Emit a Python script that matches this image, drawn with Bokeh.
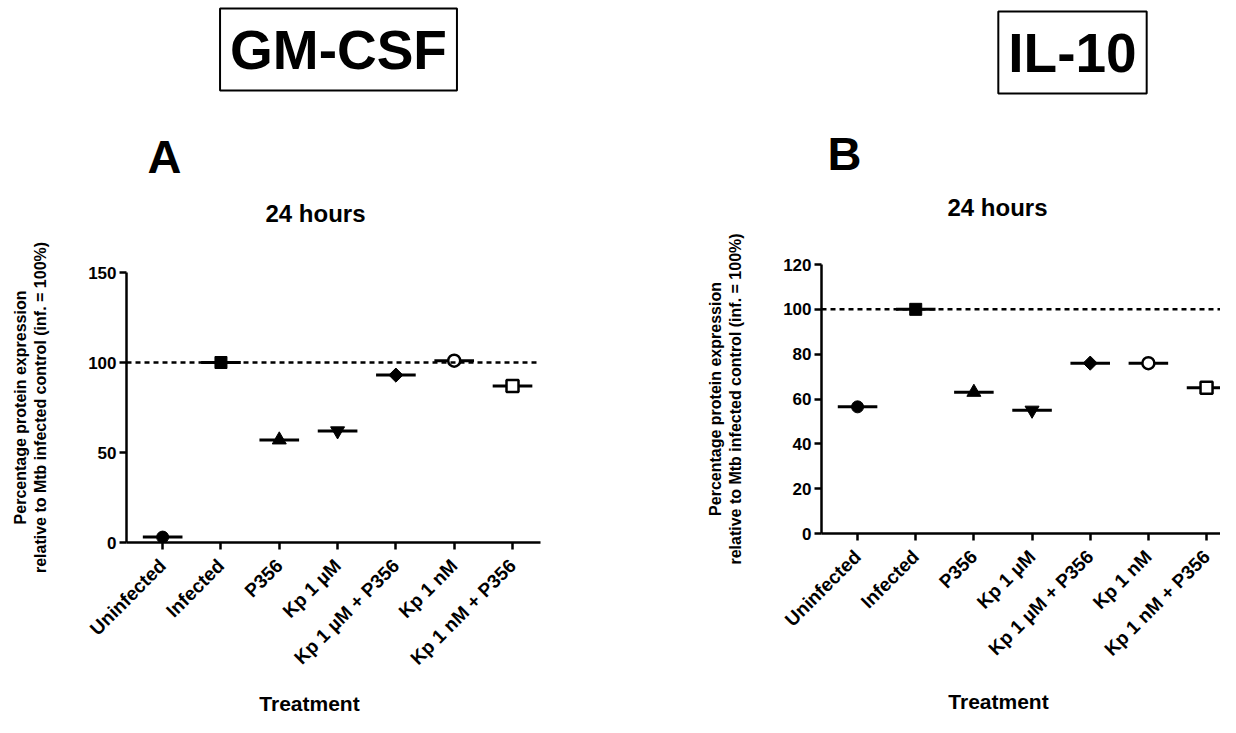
import math
from bokeh.plotting import figure
from bokeh.models import Range1d, FixedTicker, Span, Label
from bokeh.layouts import row, column
from bokeh.embed import file_html
from bokeh.resources import INLINE

# ---------------- data ----------------
treatments = ["Uninfected", "Infected", "P356", "Kp 1 \u00b5M",
              "Kp 1 \u00b5M + P356", "Kp 1 nM", "Kp 1 nM + P356"]
marker_types = ["circle", "square", "triangle", "inverted_triangle",
                "diamond", "circle", "square"]
marker_filled = [True, True, True, True, True, False, False]

gmcsf_values = [3, 100, 57, 62, 93, 101, 87]
il10_values = [56.5, 100, 63, 55, 76, 76, 65]

gmcsf_ticks = [0, 50, 100, 150]
il10_ticks = [0, 20, 40, 60, 80, 100, 120]
reference_level = 100

y_label = "Percentage protein expression\nrelative to Mtb infected control (inf. = 100%)"
x_label = "Treatment"
panel_title = "24 hours"

FONT = "Liberation Sans"
FOOTER_H = 30


def blank(width, height, left, right):
    p = figure(width=width, height=height, output_backend="svg", toolbar_location=None,
               x_range=Range1d(0, 1), y_range=Range1d(0, 1),
               x_axis_location=None, y_axis_location=None,
               min_border_left=left, min_border_right=right,
               min_border_top=0, min_border_bottom=0)
    p.outline_line_color = None
    p.grid.visible = False
    return p


def text(p, t, x, y, size, align="center", baseline="alphabetic", box=False):
    kw = {}
    if box:
        kw = dict(border_line_color="black", border_line_width=2,
                  background_fill_color="white", padding=10)
    p.add_layout(Label(x=x, y=y, x_units="screen", y_units="screen", text=t,
                       text_font=FONT, text_font_style="bold", text_font_size=size,
                       text_color="black", text_align=align, text_baseline=baseline, **kw))


def make_panel(values, ticks, width, height, border_left, border_right, border_top,
               border_bottom, x_end):
    p = figure(width=width, height=height, output_backend="svg", toolbar_location=None,
               x_range=Range1d(-0.62, x_end), y_range=Range1d(0, ticks[-1]),
               min_border_left=border_left, min_border_right=border_right,
               min_border_top=border_top, min_border_bottom=border_bottom)
    p.outline_line_color = None
    p.grid.visible = False

    xs = list(range(len(values)))
    p.xaxis.ticker = FixedTicker(ticks=xs)
    p.xaxis.major_label_overrides = {i: t for i, t in enumerate(treatments)}
    p.xaxis.major_label_orientation = math.pi / 4
    p.yaxis.ticker = FixedTicker(ticks=ticks)
    for ax in (p.xaxis, p.yaxis):
        ax.axis_line_width = 2.5
        ax.axis_line_color = "black"
        ax.major_tick_line_width = 2.5
        ax.major_tick_line_color = "black"
        ax.major_tick_out = 7
        ax.major_tick_in = 0
        ax.minor_tick_line_color = None
        ax.major_label_text_font = FONT
        ax.major_label_text_font_style = "bold"
        ax.major_label_text_color = "black"
    p.xaxis.major_label_text_font_size = "19px"
    p.yaxis.major_label_text_font_size = "17px"
    p.xaxis.major_label_standoff = 13
    p.yaxis.major_label_standoff = 3

    p.yaxis.axis_label = y_label
    p.yaxis.axis_label_text_font = FONT
    p.yaxis.axis_label_text_font_style = "bold"
    p.yaxis.axis_label_text_font_size = "16px"
    p.yaxis.axis_label_text_color = "black"
    p.yaxis.axis_label_standoff = 36

    p.add_layout(Span(location=reference_level, dimension="width",
                      line_color="black", line_width=2.5, line_dash="5 4"))

    x0 = [x - 0.34 for x in xs]
    x1 = [x + 0.34 for x in xs]
    p.segment(x0=x0, y0=values, x1=x1, y1=values, line_color="black", line_width=3)

    for x, v, m, f in zip(xs, values, marker_types, marker_filled):
        if m == "diamond":
            p.scatter([x], [v], marker="square", angle=math.pi / 4, size=10,
                      fill_color="black", line_color="black", line_width=1)
            continue
        size = 12 if m in ("circle", "square") else 14
        p.scatter([x], [v], marker=m, size=size,
                  fill_color="black" if f else "white",
                  line_color="black", line_width=1 if f else 2.5)
    return p


# ---------- panel A (GM-CSF) ----------
WA, LA, RA = 680, 126, 140
ha = blank(WA, 230, LA, RA)
text(ha, "GM-CSF", 212, 181, "55px", baseline="middle", box=True)
text(ha, "A", 21, 74, "47px", align="left")
text(ha, panel_title, 189, 17, "24px")
pa = make_panel(gmcsf_values, gmcsf_ticks, WA, 457, LA, RA,
                border_top=42, border_bottom=145, x_end=6.48)
fa = blank(WA, FOOTER_H, LA, RA)
text(fa, x_label, 183, 14, "21px")

# ---------- panel B (IL-10) ----------
WB, LB, RB = 540, 141, 0
hb = blank(WB, 224, LB, RB)
text(hb, "IL-10", 251, 172, "55px", baseline="middle", box=True)
text(hb, "B", 6, 71, "47px", align="left")
text(hb, panel_title, 176, 17, "24px")
pb = make_panel(il10_values, il10_ticks, WB, 463, LB, RB,
                border_top=40, border_bottom=154, x_end=6.24)
fb = blank(WB, FOOTER_H, LB, RB)
text(fb, x_label, 177, 16, "21px")

layout = row(column(ha, pa, fa), column(hb, pb, fb))
open("out.html", "w").write(file_html(layout, INLINE))
